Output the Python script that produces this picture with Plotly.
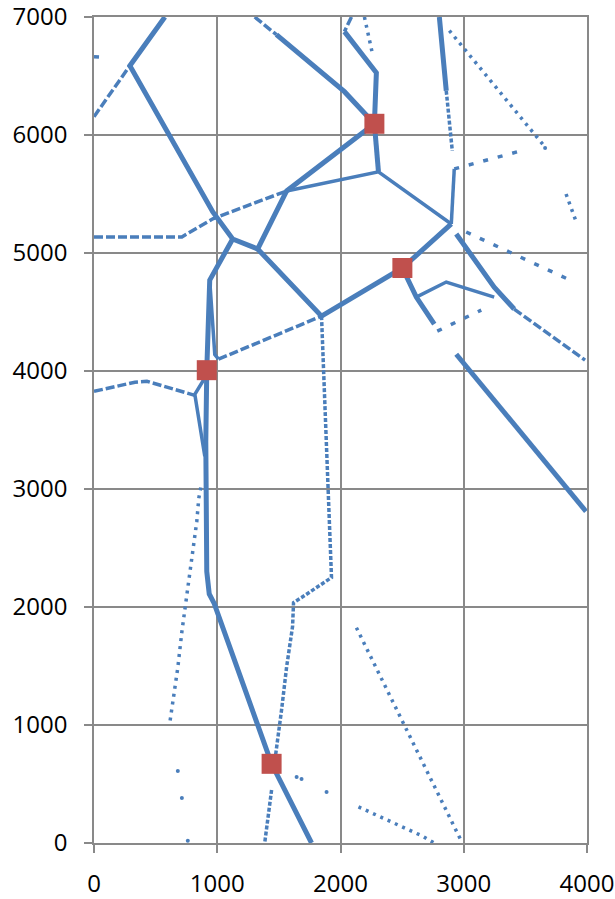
import plotly.graph_objects as go

N = None
# ---- data (x, y in chart units; None separates paths) ----
thick_x = [575, 291, 964, 1125, 1328, 1563, 2275, N,
           1125, 939, 915, 907, 915, 935, 975, 1441, 1765, N,
           1328, 1846, 2502, 2899, N,
           2275, 2308, N,
           2275, 2291, 2032, N,
           1480, 2032, 2275, N,
           2802, 2858, N,
           2939, 3247, 3409, N,
           2502, 2615, 2761, N,
           2939, 3992]
thick_y = [7000, 6587, 5348, 5119, 5034, 5526, 6095, N,
           5119, 4770, 4007, 3400, 2300, 2110, 2030, 671, 0, N,
           5034, 4465, 4873, 5246, N,
           6095, 5688, N,
           6095, 6528, 6876, N,
           6850, 6367, 6095, N,
           7000, 6375, N,
           5161, 4711, 4525, N,
           4873, 4626, 4397, N,
           4142, 2810]

medium_x = [1563, 2308, 2899, N,
            2923, 2899, N,
            2615, 2858, 3247, N,
            939, 980, 1010, N,
            915, 883, 818, 899]
medium_y = [5526, 5688, 5246, N,
            5713, 5246, N,
            4626, 4754, 4626, N,
            4770, 4140, 4100, N,
            4007, 3913, 3803, 3277]

dashed_x = [0, 291, N,
            0, 713, 964, 1563, N,
            1010, 1765, 1846, N,
            0, 332, 429, 737, 818, N,
            1304, 1480, N,
            3409, 3984, N,
            2089, 2032]
dashed_y = [6155, 6587, N,
            5136, 5136, 5290, 5526, N,
            4100, 4423, 4465, N,
            3828, 3905, 3913, 3820, 3794, N,
            7000, 6850, N,
            4525, 4092, N,
            7000, 6876]

sparse_x = [2923, 3433, N,
            3020, 3879, N,
            2785, 3020, 3142, N,
            0, 65]
sparse_y = [5713, 5857, N,
            5178, 4762, N,
            4338, 4456, 4516, N,
            6664, 6660]

dense_dot_x = [1846, 1927, 1927, 1684, 1619, 1611, 1563, 1522, 1482, 1470, N,
               1441, 1385, N,
               2858, 2907]
dense_dot_y = [4465, 2318, 2250, 2080, 2037, 1834, 1494, 1129, 806, 720, N,
               450, 0, N,
               6375, 5866]

dotted_x = [2194, 2259, N,
            2883, 3652, N,
            3830, 3919, N,
            866, 850, 834, 818, 802, 761, 745, 737, 713, 680, 656, 632, 615, N,
            2129, 2988, N,
            2146, 2413, 2664, 2760]
dotted_y = [7000, 6690, N,
            6885, 5908, N,
            5500, 5246, N,
            3013, 2920, 2725, 2606, 2504, 2190, 2063, 1970, 1791, 1486, 1324, 1154, 1019, N,
            1825, 0, N,
            306, 178, 59, 0]

dots_x = [680, 713, 761, 1644, 1684, 1887, 3660]
dots_y = [611, 382, 20, 560, 543, 433, 5890]

sites_x = [2275, 2502, 915, 1441]
sites_y = [6095, 4873, 4007, 671]

x_ticks = [0, 1000, 2000, 3000, 4000]
y_ticks = [0, 1000, 2000, 3000, 4000, 5000, 6000, 7000]

BLUE = "#4A7EBB"
RED = "#C0504D"
GRID = "#898989"

fig = go.Figure()

def add_line(xs, ys, width, dash):
    fig.add_trace(go.Scatter(x=xs, y=ys, mode="lines", connectgaps=False,
                             line=dict(color=BLUE, width=width, dash=dash),
                             hoverinfo="skip", showlegend=False))

add_line(thick_x, thick_y, 5, "solid")
add_line(medium_x, medium_y, 3.5, "solid")
add_line(dashed_x, dashed_y, 3.5, "9px,3px")
add_line(sparse_x, sparse_y, 3.5, "5px,10px")
add_line(dense_dot_x, dense_dot_y, 3.5, "4px,2px")
add_line(dotted_x, dotted_y, 3.5, "3px,5px")

fig.add_trace(go.Scatter(x=dots_x, y=dots_y, mode="markers",
                         marker=dict(color=BLUE, size=4, symbol="circle"),
                         showlegend=False))
fig.add_trace(go.Scatter(x=sites_x, y=sites_y, mode="markers",
                         marker=dict(color=RED, size=20, symbol="square",
                                     line=dict(width=0)),
                         showlegend=False))

axis_font = dict(family="Open Sans, Liberation Sans, sans-serif", size=24, color="#000000")
common = dict(showgrid=True, gridcolor=GRID, gridwidth=1.5,
              zeroline=False, showline=True, linecolor=GRID, linewidth=1.5, mirror=True,
              ticks="outside", ticklen=8, tickcolor=GRID, tickwidth=1.5,
              tickfont=axis_font, automargin=False, ticklabeloverflow="allow")
fig.update_layout(
    width=615, height=899,
    margin=dict(l=94, r=28, t=17, b=56),
    paper_bgcolor="white", plot_bgcolor="white",
    showlegend=False,
    xaxis=dict(range=[0, 4000], tickvals=x_ticks, ticklabelstandoff=10, **common),
    yaxis=dict(range=[0, 7000], tickvals=y_ticks, ticklabelstandoff=12, **common),
)

fig.write_html("out.html", config={"displayModeBar": False},
               post_script="document.body.style.margin='0px';document.body.style.overflow='hidden';")
